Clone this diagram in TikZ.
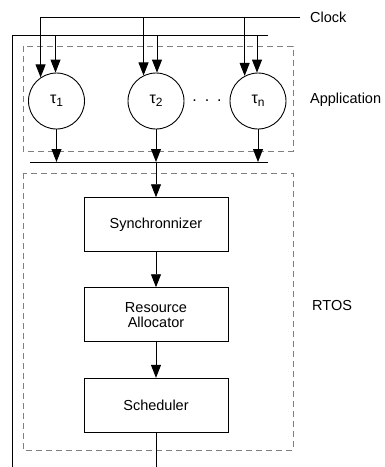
\documentclass[tikz,border=0pt]{standalone}
\usepackage{fontspec}
\setmainfont{Liberation Sans}
\usetikzlibrary{arrows.meta}
% task label: tau with a lowered index
\newcommand{\tasklbl}[1]{{\fontsize{16}{18}\selectfont τ}\raisebox{-3.5pt}{\fontsize{12}{14}\selectfont #1}}
\begin{document}
\begin{tikzpicture}[x=1pt,y=-1pt,
  every node/.style={font=\fontsize{14.5}{17}\selectfont},
  line/.style={draw=black,line width=0.9pt},
  arr/.style={line,-{Triangle[length=13pt,width=10pt]}},
  task/.style={line,circle,minimum size=56pt,inner sep=0pt},
  block/.style={line,rectangle,minimum width=144pt,minimum height=54pt,align=center,inner sep=2pt},
  group/.style={draw=black!50,line width=0.8pt,dash pattern=on 6pt off 4pt},
  lbl/.style={anchor=west,inner sep=0pt}]
\useasboundingbox (0,0) rectangle (385,467);

% regions
\draw[group] (23,46) rectangle (293,151);
\draw[group] (23,173) rectangle (293,450);
\node[lbl] at (310,100) {Application};
\node[lbl] at (312,306) {RTOS};

% tasks
\node[task] (t1) at (56.5,101) {\tasklbl{1}};
\node[task] (t2) at (156,101) {\tasklbl{2}};
\node[task] (tn) at (258,101) {\tasklbl{n}};
\node (dots) at (207,101) {\fontsize{16}{18}\selectfont .\hspace{8pt}.\hspace{8pt}.};

% clock line
\coordinate (ck) at (0,17);
\node[lbl] (clock) at (310,17) {Clock};
\draw[line] (t1.124 |- ck) -- (clock.west -| 300,0);
\draw[arr] (t1.124 |- ck) -- (t1.124);
\draw[arr] (t2.116 |- ck) -- (t2.116);
\draw[arr] (tn.118 |- ck) -- (tn.118);

% feedback line
\coordinate (fbl) at (12,467);
\coordinate (fbt) at (12,35);
\coordinate (fbr) at (268,35);
\draw[line] (fbl) -- (fbt) -- (fbr);
\draw[arr] (t1.92 |- fbt) -- (t1.92);
\draw[arr] (t2.88 |- fbt) -- (t2.88);
\draw[arr] (tn.92 |- fbt) -- (tn.92);

% collecting bar
\coordinate (barl) at (30,162);
\coordinate (barr) at (268,162);
\draw[line] (barl) -- (barr);
\draw[arr] (t1.south) -- (t1.south |- barl);
\draw[arr] (t2.south) -- (t2.south |- barl);
\draw[arr] (tn.south) -- (tn.south |- barl);

% RTOS blocks
\node[block] (sync) at (156,224.7) {Synchronnizer};
\node[block] (res) at (156,314.7) {Resource\\[-2pt]Allocator};
\node[block] (sch) at (156,405.3) {Scheduler};
\coordinate (out) at (156,467);
\draw[arr] (t2.south |- barl) -- (sync.north);
\draw[arr] (sync) -- (res);
\draw[arr] (res) -- (sch);
\draw[line] (sch.south) -- (out);
\end{tikzpicture}
\end{document}
